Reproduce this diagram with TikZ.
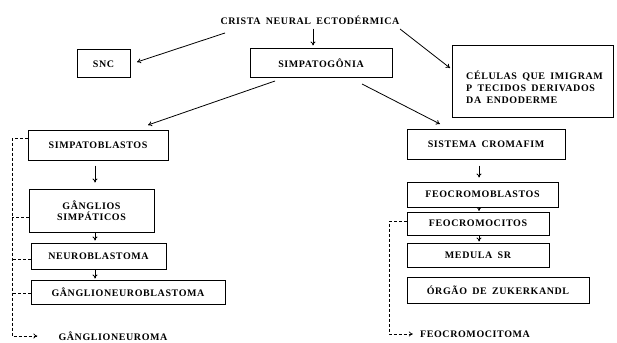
\documentclass[tikz,border=0pt]{standalone}
\usepackage{fontspec}
\setmainfont{Liberation Serif}[LetterSpace=6, WordSpace=1.7]
\usetikzlibrary{arrows.meta}
\begin{document}
\begin{tikzpicture}[x=1pt,y=-1pt,
  txt/.style={inner sep=0pt, font=\fontsize{10}{11}\selectfont\bfseries},
  box/.style={txt, draw, line width=1pt},
  arr/.style={line width=0.8pt, -{To[length=4pt,width=5pt]}},
  dsh/.style={line width=0.7pt, dash pattern=on 3pt off 2pt},
  darr/.style={dsh, -{To[length=4pt,width=5pt]}},
]
\useasboundingbox[fill=white] (0,0) rectangle (617,342);

% top
\node[txt] (crista) at (310,20) {CRISTA NEURAL ECTODÉRMICA};
\node[box, minimum width=53, minimum height=28] (snc) at (103.5,64) {SNC};
\node[box, minimum width=142, minimum height=29] (simp) at (321,63.5) {SIMPATOGÔNIA};
\node[box, minimum width=161, minimum height=71] (cel) at (532.5,81.5) {};
\node[txt, anchor=west, align=left, font=\fontsize{10}{12}\selectfont\bfseries] (celtext) at (466,87)
  {CÉLULAS QUE IMIGRAM\\P TECIDOS DERIVADOS\\DA ENDODERME};

% left column
\node[box, minimum width=140, minimum height=30] (sb) at (98,145) {SIMPATOBLASTOS};
\node[box, minimum width=125, minimum height=43, align=center] (gang) at (91.5,210.5) {GÂNGLIOS\\SIMPÁTICOS};
\node[box, minimum width=135, minimum height=26] (neuro) at (98.5,256) {NEUROBLASTOMA};
\node[box, minimum width=194, minimum height=24] (gnb) at (128,292) {GÂNGLIONEUROBLASTOMA};
\node[txt] (gnm) at (113,336) {GÂNGLIONEUROMA};

% right column
\node[box, minimum width=158, minimum height=30] (sis) at (486,144) {SISTEMA CROMAFIM};
\node[box, minimum width=151, minimum height=25] (fb) at (482.5,194.5) {FEOCROMOBLASTOS};
\node[box, minimum width=142, minimum height=23] (fc) at (478,223.5) {FEOCROMOCITOS};
\node[box, minimum width=142, minimum height=24] (med) at (478,255) {MEDULA SR};
\node[box, minimum width=182, minimum height=26] (org) at (498,290) {ÓRGÃO DE ZUKERKANDL};
\node[txt] (fcm) at (475,334) {FEOCROMOCITOMA};

\coordinate (lbus) at (12,336);
\coordinate (rbus) at (389,334);

% solid arrows
\draw[arr] ([xshift=3]crista.south) ++(0,4) -- ([shift={(-8,-3)}]simp.north);
\draw[arr] ([shift={(-85,13)}]crista.center) -- ([shift={(33.5,-2)}]snc.center);
\draw[arr] ([shift={(90,9)}]crista.center) -- ([shift={(-82.5,-13.5)}]cel.center);
\draw[arr] ([shift={(-46,17.5)}]simp.center) -- ([shift={(50,-20)}]sb.center);
\draw[arr] ([shift={(41,20.5)}]simp.center) -- ([shift={(-46,-20)}]sis.center);

\draw[arr] ([shift={(-3,5)}]sb.south) -- ([shift={(3.5,-6)}]gang.north);
\draw[arr] ([xshift=3.5]gang.south) -- ([shift={(-3.5,-2)}]neuro.north);
\draw[arr] ([xshift=-3.5]neuro.south) -- ([shift={(-33,-1)}]gnb.north);

\draw[arr] ([shift={(-7,6)}]sis.south) -- ([shift={(-3.5,-4)}]fb.north);
\draw[arr] ([xshift=-3.5]fb.south) -- ([shift={(1,-0.5)}]fc.north);
\draw[arr] ([xshift=1]fc.south) -- ([shift={(1,-1)}]med.north);

% dashed connectors
\draw[darr, shorten >=21] ([yshift=7]sb.west) -| (lbus) -- (gnm.west);
\draw[dsh] ([yshift=-6.5]gang.west) -- ([yshift=-6.5]gang.west -| lbus);
\draw[dsh] ([yshift=-3]neuro.west) -- ([yshift=-3]neuro.west -| lbus);
\draw[dsh] ([yshift=-1]gnb.west) -- ([yshift=-1]gnb.west -| lbus);

\draw[darr, shorten >=7] ([yshift=2.5]fc.west) -| (rbus) -- (fcm.west);
\end{tikzpicture}
\end{document}
